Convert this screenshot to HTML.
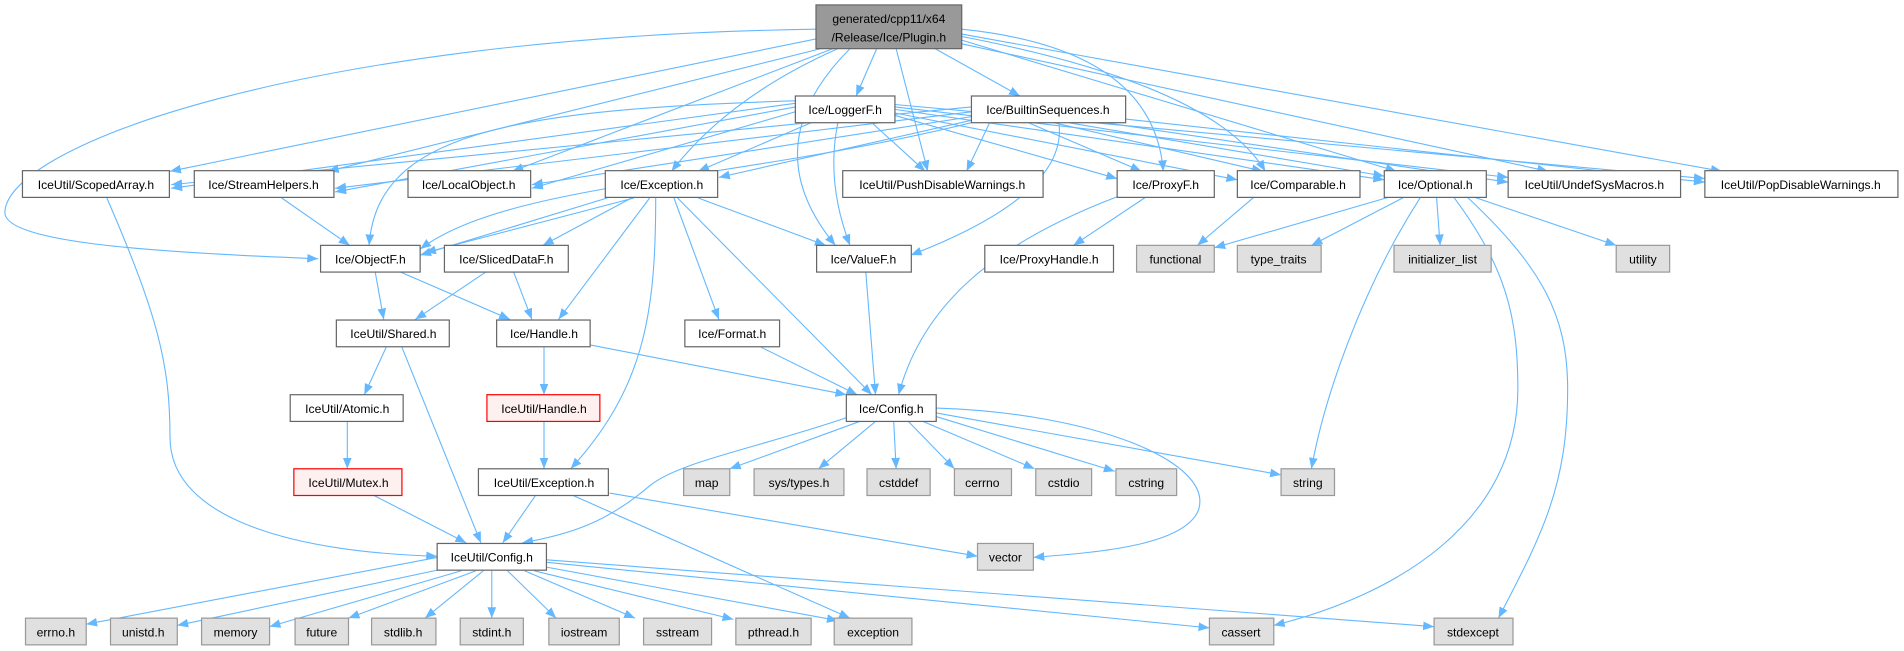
<!DOCTYPE html>
<html><head><meta charset="utf-8"><style>
html,body{margin:0;padding:0;background:#fff;}
svg{display:block;}
text{font-family:"Liberation Sans",Arial,sans-serif;font-size:10px;fill:#000;text-anchor:middle;}
.n{fill:#fff;stroke:#666;stroke-width:1;}
.g{fill:#e0e0e0;stroke:#999;stroke-width:1;}
.r{fill:#fff0f0;stroke:#f00;stroke-width:1;}
.e path{fill:none;stroke:#63b8ff;stroke-width:0.9;marker-end:url(#a);}
</style></head><body>
<svg width="1904" height="651" viewBox="0 0 1568 536" xmlns="http://www.w3.org/2000/svg">
<defs><marker id="a" viewBox="0 0 10 10" refX="10" refY="5" markerWidth="9" markerHeight="9" markerUnits="userSpaceOnUse" orient="auto"><path d="M0,1 L10,5 L0,9 z" fill="#63b8ff"/></marker></defs>
<g class="e">
<path d="M672,32 L140,141"/><path d="M676,40 L270,141"/><path d="M686,40 L422,141"/>
<path d="M690,40 Q600,80 553,141"/><path d="M700,40 Q620,120 688,202"/><path d="M722,40 L705,79"/>
<path d="M738,40 L764,141"/><path d="M770,40 L840,79"/><path d="M792,24 Q950,40 958,141"/>
<path d="M792,30 Q1000,70 1042,141"/><path d="M792,33 L1150,141"/><path d="M792,36 L1275,141"/>
<path d="M792,28 L1418,141"/><path d="M672,24 C250,30 5,120 4,175 C4,200 130,208 262,213"/>
<path d="M655,85 L141,155"/><path d="M655,88 L276,158"/><path d="M655,92 L438,155"/>
<path d="M655,83 C420,90 310,110 304,202"/><path d="M668,101 L575,141"/><path d="M690,101 Q680,150 700,202"/>
<path d="M718,101 L762,141"/><path d="M737,95 L920,147"/><path d="M737,93 L1019,148"/>
<path d="M737,90 L1140,148"/><path d="M737,88 L1242,146"/><path d="M737,86 L1404,147"/>
<path d="M800,88 L141,152"/><path d="M800,92 L276,155"/><path d="M800,96 L438,152"/>
<path d="M800,99 L592,146"/><path d="M800,101 C600,150 420,150 346,205"/><path d="M815,101 L796,141"/>
<path d="M872,101 Q880,160 750,210"/><path d="M847,101 L940,141"/><path d="M868,101 L1040,141"/>
<path d="M880,101 L1140,145"/><path d="M910,101 L1242,150"/><path d="M927,98 L1404,150"/>
<path d="M500,163 L346,210"/><path d="M522,163 L350,208"/><path d="M520,163 L447,202"/>
<path d="M535,163 L460,263"/><path d="M540,163 C540,260 530,320 470,386"/><path d="M555,163 L592,263"/>
<path d="M558,163 L718,325"/><path d="M575,163 L680,202"/>
<path d="M232,163 L288,202"/><path d="M88,163 C130,260 140,300 140,360 C140,430 250,455 360,458"/>
<path d="M309,224 L316,263"/><path d="M330,224 L420,263"/><path d="M400,224 L342,263"/><path d="M423,224 L438,263"/>
<path d="M713,224 L721,325"/><path d="M920,162 C820,200 760,250 740,325"/><path d="M944,162 L884,202"/>
<path d="M1033,162 L986,202"/><path d="M1145,162 L1000,204"/><path d="M1157,162 L1080,202"/>
<path d="M1183,162 L1186,202"/><path d="M1213,162 L1331,202"/><path d="M1170,162 C1120,240 1090,330 1080,386"/>
<path d="M1197,162 C1240,220 1250,260 1250,320 C1250,430 1150,490 1049,515"/>
<path d="M1208,162 C1270,220 1291,260 1291,320 C1291,400 1270,440 1234,509"/>
<path d="M318,286 L300,325"/><path d="M331,286 L396,447"/><path d="M448,286 L448,325"/>
<path d="M486,284 L697,325"/><path d="M627,286 L706,325"/><path d="M286,347 L286,386"/>
<path d="M308,408 L384,447"/><path d="M448,347 L448,386"/><path d="M441,408 L414,447"/>
<path d="M472,408 L700,509"/><path d="M502,406 L805,458"/>
<path d="M697,344 C620,370 560,380 535,400 C500,430 470,440 430,447"/>
<path d="M708,347 L601,386"/><path d="M721,347 L674,386"/><path d="M736,347 L738,386"/>
<path d="M748,347 L786,386"/><path d="M760,347 L852,386"/><path d="M771,343 L918,388"/>
<path d="M771,340 L1055,391"/><path d="M771,336 C900,340 1000,380 987,420 C975,450 900,455 851,459"/>
<path d="M360,459 L71,514"/><path d="M367,468 L146,515"/><path d="M380,470 L222,516"/>
<path d="M392,470 L287,509"/><path d="M398,470 L350,509"/><path d="M405,470 L405,509"/>
<path d="M418,470 L458,509"/><path d="M432,470 L523,509"/><path d="M440,470 L604,510"/>
<path d="M450,467 L690,511"/><path d="M450,463 L996,517"/><path d="M450,461 L1181,516"/>
</g>
<rect x="672" y="4" width="120" height="36" fill="#999" stroke="#666"/>
<text x="732" y="19">generated/cpp11/x64</text><text x="732" y="34">/Release/Ice/Plugin.h</text>
<g>
<rect class="n" x="655" y="79" width="82" height="22"/><text x="696" y="94">Ice/LoggerF.h</text>
<rect class="n" x="800" y="79" width="127" height="22"/><text x="863" y="94">Ice/BuiltinSequences.h</text>
<rect class="n" x="18.5" y="140.5" width="121" height="22"/><text x="79" y="155.5">IceUtil/ScopedArray.h</text>
<rect class="n" x="160" y="140.5" width="115" height="22"/><text x="217" y="155.5">Ice/StreamHelpers.h</text>
<rect class="n" x="336" y="140.5" width="101" height="22"/><text x="386" y="155.5">Ice/LocalObject.h</text>
<rect class="n" x="498.5" y="140.5" width="92.5" height="22"/><text x="545" y="155.5">Ice/Exception.h</text>
<rect class="n" x="694" y="140.5" width="165" height="22"/><text x="776" y="155.5">IceUtil/PushDisableWarnings.h</text>
<rect class="n" x="920" y="140.5" width="80" height="22"/><text x="960" y="155.5">Ice/ProxyF.h</text>
<rect class="n" x="1019" y="140.5" width="101" height="22"/><text x="1069" y="155.5">Ice/Comparable.h</text>
<rect class="n" x="1140" y="140.5" width="84" height="22"/><text x="1182" y="155.5">Ice/Optional.h</text>
<rect class="n" x="1242" y="140.5" width="142" height="22"/><text x="1313" y="155.5">IceUtil/UndefSysMacros.h</text>
<rect class="n" x="1404" y="140.5" width="159" height="22"/><text x="1483" y="155.5">IceUtil/PopDisableWarnings.h</text>
<rect class="n" x="264" y="202" width="82" height="22"/><text x="305" y="217">Ice/ObjectF.h</text>
<rect class="n" x="366" y="202" width="102" height="22"/><text x="417" y="217">Ice/SlicedDataF.h</text>
<rect class="n" x="672.5" y="202" width="78" height="22"/><text x="711" y="217">Ice/ValueF.h</text>
<rect class="n" x="811" y="202" width="106" height="22"/><text x="864" y="217">Ice/ProxyHandle.h</text>
<rect class="g" x="936" y="202" width="64" height="22"/><text x="968" y="217">functional</text>
<rect class="g" x="1019" y="202" width="69" height="22"/><text x="1053" y="217">type_traits</text>
<rect class="g" x="1148" y="202" width="80" height="22"/><text x="1188" y="217">initializer_list</text>
<rect class="g" x="1331" y="202" width="44" height="22"/><text x="1353" y="217">utility</text>
<rect class="n" x="277" y="263.5" width="93" height="22"/><text x="324" y="278.5">IceUtil/Shared.h</text>
<rect class="n" x="409" y="263.5" width="77" height="22"/><text x="448" y="278.5">Ice/Handle.h</text>
<rect class="n" x="564" y="263.5" width="78" height="22"/><text x="603" y="278.5">Ice/Format.h</text>
<rect class="n" x="239" y="325" width="93" height="22"/><text x="286" y="340">IceUtil/Atomic.h</text>
<rect class="r" x="401" y="325" width="93" height="22"/><text x="448" y="340">IceUtil/Handle.h</text>
<rect class="n" x="697" y="325" width="74" height="22"/><text x="734" y="340">Ice/Config.h</text>
<rect class="r" x="242" y="386" width="89" height="22"/><text x="287" y="401">IceUtil/Mutex.h</text>
<rect class="n" x="394" y="386" width="107" height="22"/><text x="448" y="401">IceUtil/Exception.h</text>
<rect class="g" x="563" y="386" width="38" height="22"/><text x="582" y="401">map</text>
<rect class="g" x="621" y="386" width="74" height="22"/><text x="658" y="401">sys/types.h</text>
<rect class="g" x="714" y="386" width="52" height="22"/><text x="740" y="401">cstddef</text>
<rect class="g" x="786" y="386" width="47" height="22"/><text x="809" y="401">cerrno</text>
<rect class="g" x="853" y="386" width="46" height="22"/><text x="876" y="401">cstdio</text>
<rect class="g" x="919" y="386" width="50" height="22"/><text x="944" y="401">cstring</text>
<rect class="g" x="1055" y="386" width="44" height="22"/><text x="1077" y="401">string</text>
<rect class="n" x="360" y="447.5" width="90" height="22"/><text x="405" y="462.5">IceUtil/Config.h</text>
<rect class="g" x="805" y="447.5" width="46" height="22"/><text x="828" y="462.5">vector</text>
<rect class="g" x="21" y="509" width="50" height="22"/><text x="46" y="524">errno.h</text>
<rect class="g" x="91" y="509" width="55" height="22"/><text x="118" y="524">unistd.h</text>
<rect class="g" x="166" y="509" width="56" height="22"/><text x="194" y="524">memory</text>
<rect class="g" x="243" y="509" width="44" height="22"/><text x="265" y="524">future</text>
<rect class="g" x="306" y="509" width="53" height="22"/><text x="332" y="524">stdlib.h</text>
<rect class="g" x="379" y="509" width="52" height="22"/><text x="405" y="524">stdint.h</text>
<rect class="g" x="452" y="509" width="58" height="22"/><text x="481" y="524">iostream</text>
<rect class="g" x="530" y="509" width="56" height="22"/><text x="558" y="524">sstream</text>
<rect class="g" x="606" y="509" width="62" height="22"/><text x="637" y="524">pthread.h</text>
<rect class="g" x="687" y="509" width="64" height="22"/><text x="719" y="524">exception</text>
<rect class="g" x="996" y="509" width="53" height="22"/><text x="1022" y="524">cassert</text>
<rect class="g" x="1181" y="509" width="65" height="22"/><text x="1213" y="524">stdexcept</text>
</g>
</svg>
</body></html>
